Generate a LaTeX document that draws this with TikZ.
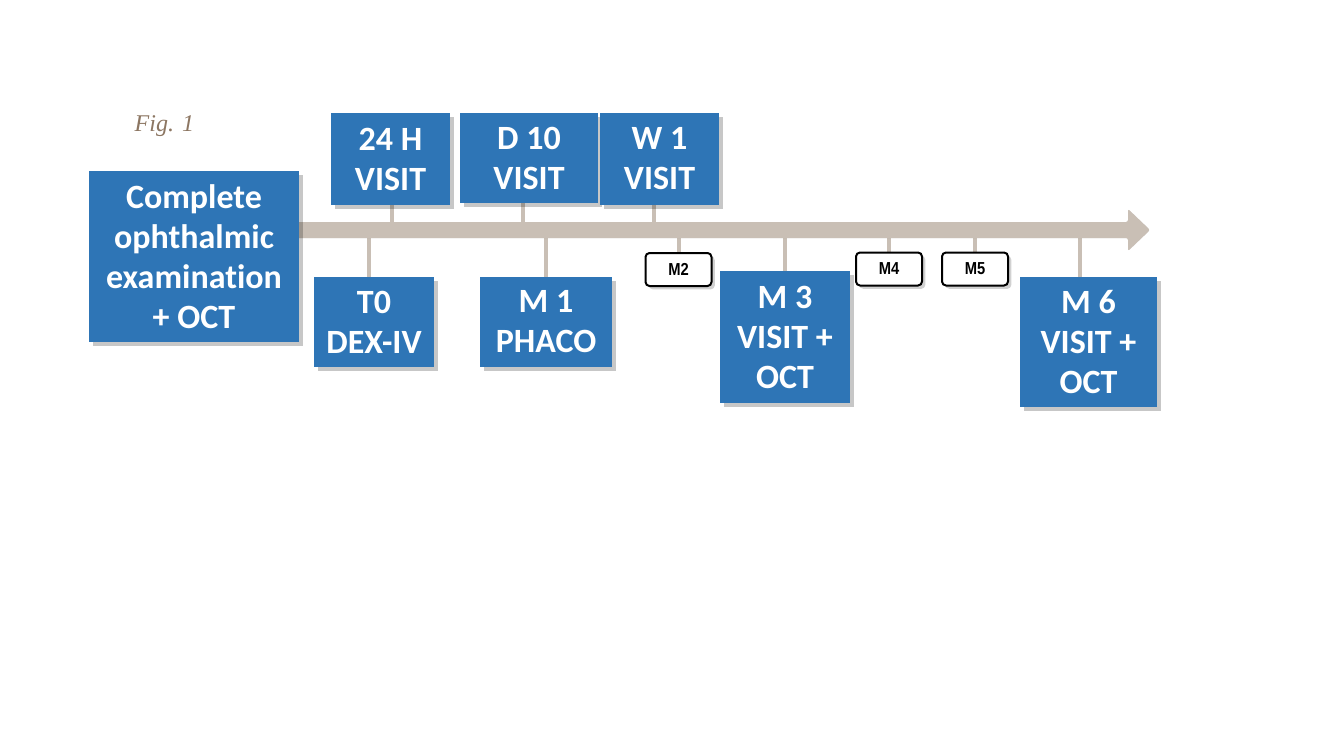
\documentclass[tikz,border=0pt]{standalone}
\usepackage{fontspec}
\setmainfont[Ligatures=NoCommon]{Carlito}
\newfontfamily\labfont[FakeStretch=0.85]{Liberation Sans}
\newfontfamily\figfont{Liberation Serif}
\usetikzlibrary{shadows}
\definecolor{boxblue}{RGB}{46,117,182}
\definecolor{taupe}{RGB}{201,191,181}
\definecolor{figbrown}{RGB}{140,118,98}
\newdimen\pxu \pxu=0.75pt
\pgfdeclarelayer{background}
\pgfdeclarelayer{canvas}
\pgfsetlayers{canvas,background,main}
\tikzset{
  bluebox/.style={fill=boxblue, text=white, inner sep=0pt, align=center,
    font=\fontsize{25.5pt}{30pt}\selectfont\bfseries,
    drop shadow={shadow xshift=3pt, shadow yshift=-3pt, opacity=0.22, fill=black}},
  smallbox/.style={fill=white, draw=black, line width=1.5pt, rounded corners=3pt,
    inner sep=0pt, minimum width=66\pxu, minimum height=33\pxu,
    font=\labfont\fontsize{13pt}{15pt}\selectfont\bfseries,
    drop shadow={shadow xshift=2.5pt, shadow yshift=-2.5pt, opacity=0.18, fill=black}},
  tickline/.style={draw=taupe, line width=3pt},
}
\begin{document}
\begin{tikzpicture}[x=0.75pt, y=-0.75pt]
\begin{pgfonlayer}{canvas}
\fill[white] (0,0) rectangle (1333,750);
\end{pgfonlayer}
\node[anchor=base west, text=figbrown, font=\figfont\itshape\fontsize{18pt}{20pt}\selectfont] (fig) at (130,131) {Fig. 1};
% boxes
\node[bluebox, minimum width=210\pxu, minimum height=171\pxu] (main) at (194,256.5) {Complete\\ophthalmic\\examination\\+ OCT};
\node[bluebox, minimum width=119\pxu, minimum height=92\pxu] (h24) at (390.5,159) {24 H\\VISIT};
\node[bluebox, minimum width=138\pxu, minimum height=90\pxu] (d10) at (529,158) {D 10\\VISIT};
\node[bluebox, minimum width=119\pxu, minimum height=92\pxu] (w1) at (659.5,159) {W 1\\VISIT};
\node[bluebox, minimum width=120\pxu, minimum height=90\pxu] (t0) at (374,322) {T0\\DEX-IV};
\node[bluebox, minimum width=132\pxu, minimum height=90\pxu] (m1) at (546,322) {M 1\\PHACO};
\node[bluebox, minimum width=130\pxu, minimum height=132\pxu] (m3) at (785,337) {M 3\\VISIT +\\OCT};
\node[bluebox, minimum width=137\pxu, minimum height=130\pxu] (m6) at (1088.5,342) {M 6\\VISIT +\\OCT};
\node[smallbox] (m2) at (678.5,269.5) {M2};
\node[smallbox] (m4) at (889,269) {M4};
\node[smallbox] (m5) at (975,269) {M5};
% bar coordinates
\coordinate (bstart) at (290,230);
\coordinate (b24) at (392,230);
\coordinate (bd10) at (523,230);
\coordinate (bw1) at (654,230);
\coordinate (bt0) at (369,230);
\coordinate (bm1) at (546,230);
\coordinate (bm2) at (679,230);
\coordinate (bm3) at (785,230);
\coordinate (bm4) at (889,230);
\coordinate (bm5) at (975,230);
\coordinate (bm6) at (1080,230);
\coordinate (btip) at (1150,230);
\begin{pgfonlayer}{background}
\foreach \n/\b in {h24/b24, d10/bd10, w1/bw1}
  \draw[tickline] (\n.south -| \b) -- (\b);
\foreach \n/\b in {t0/bt0, m1/bm1, m2/bm2, m3/bm3, m4/bm4, m5/bm5, m6/bm6}
  \draw[tickline] (\n.north -| \b) -- (\b);
\begin{scope}[shift={(3,4)}]
\fill[black, opacity=0.12, rounded corners=1.5pt] (bstart) ++(0,-8) -- ++(838,0) -- ++(0,-13) -- (btip) -- ++(-22,21) -- ++(0,-13) -- ++(-838,0) -- cycle;
\end{scope}
\fill[taupe, rounded corners=1.5pt] (bstart) ++(0,-8) -- ++(838,0) -- ++(0,-13) -- (btip) -- ++(-22,21) -- ++(0,-13) -- ++(-838,0) -- cycle;
\end{pgfonlayer}
\end{tikzpicture}
\end{document}
